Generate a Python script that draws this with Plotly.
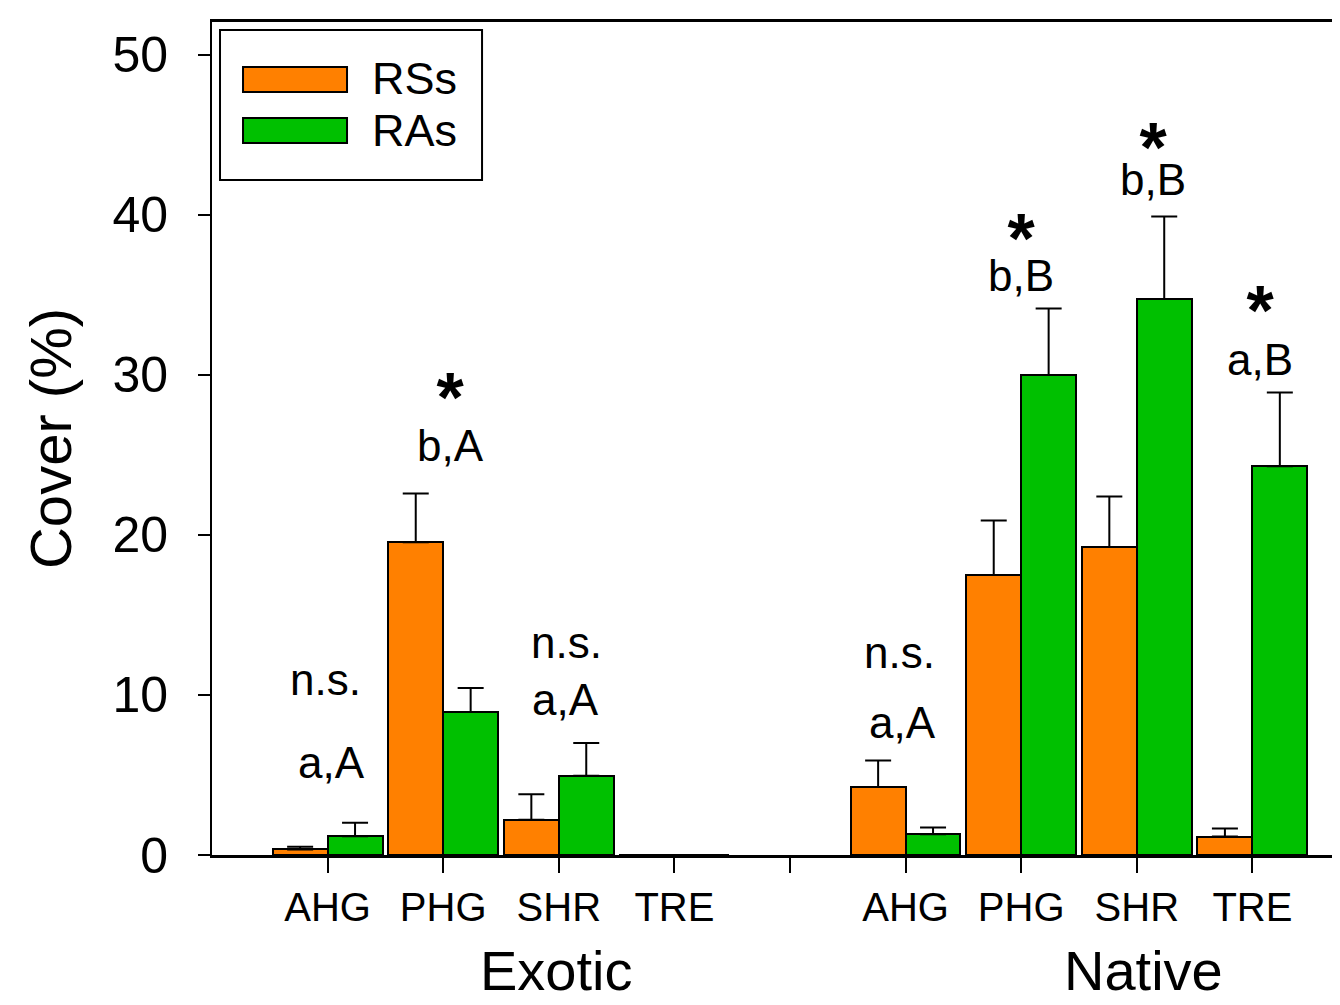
import plotly.graph_objects as go

# ---------------- data ----------------
categories = ["AHG", "PHG", "SHR", "TRE"]
groups = ["Exotic", "Native"]
slots_exotic = [0, 1, 2, 3]
slots_native = [5, 6, 7, 8]

rss_exotic = [0.35, 19.55, 2.2, 0.0]
rss_exotic_err = [0.17, 3.05, 1.6, 0.0]
ras_exotic = [1.17, 8.93, 4.95, 0.0]
ras_exotic_err = [0.85, 1.5, 2.05, 0.0]

rss_native = [4.25, 17.5, 19.25, 1.15]
rss_native_err = [1.65, 3.4, 3.15, 0.5]
ras_native = [1.3, 30.0, 34.75, 24.3]
ras_native_err = [0.42, 4.15, 5.15, 4.6]

# letter labels without asterisk: text, slot position, y value (label centre)
lab_text = ["n.s.", "a,A", "n.s.", "a,A", "n.s.", "a,A"]
lab_x = [-0.022, 0.035, 2.067, 2.059, 4.948, 4.974]
lab_y = [10.94, 5.81, 13.25, 9.69, 12.63, 8.31]

# significant pairs: asterisk above a letter label
sig_mark = ["*", "*", "*", "*"]
sig_text = ["b,A", "b,B", "b,B", "a,B"]
sig_x = [1.06, 6.0, 7.14, 8.07]
sig_y = [23.94, 34.56, 40.56, 29.31]       # bottom of the label block
sig_gap = [30, 21.5, 18, 30.8]             # line spacing of the block

tick_slots = [0, 1, 2, 3, 4, 5, 6, 7, 8]
tick_text = categories + [""] + categories
group_label_x = [1.98, 7.06]

ORANGE = "#FF8000"
GREEN = "#00C000"
BW = 0.475
FONT = "Arial, Liberation Sans, sans-serif"

slots = slots_exotic + slots_native
rss = rss_exotic + rss_native
rss_err = rss_exotic_err + rss_native_err
ras = ras_exotic + ras_native
ras_err = ras_exotic_err + ras_native_err

fig = go.Figure()
fig.add_trace(go.Bar(
    x=[s - BW / 2 for s in slots], y=rss, width=BW, name="RSs",
    marker=dict(color=ORANGE, line=dict(color="black", width=2)),
    error_y=dict(type="data", array=rss_err, arrayminus=[0] * len(rss),
                 symmetric=False, color="black", thickness=2, width=13),
))
fig.add_trace(go.Bar(
    x=[s + BW / 2 for s in slots], y=ras, width=BW, name="RAs",
    marker=dict(color=GREEN, line=dict(color="black", width=2)),
    error_y=dict(type="data", array=ras_err, arrayminus=[0] * len(ras),
                 symmetric=False, color="black", thickness=2, width=13),
))

annotations = []
for t, x, y in zip(lab_text, lab_x, lab_y):
    annotations.append(dict(
        x=x, y=y, xref="x", yref="y", text=t, showarrow=False,
        font=dict(family=FONT, size=44, color="black"), yanchor="middle",
    ))
for m, t, x, y, g in zip(sig_mark, sig_text, sig_x, sig_y, sig_gap):
    annotations.append(dict(
        x=x, y=y, xref="x", yref="y", showarrow=False, yanchor="bottom",
        text=("<span style='font-size:70px'><b>" + m + "</b></span><br>"
              "<span style='font-size:44px'>" + t + "</span>"),
        font=dict(family=FONT, size=g, color="black"), align="center",
    ))
for g, gx in zip(groups, group_label_x):
    annotations.append(dict(
        x=gx, y=-0.1789, xref="x", yref="paper", text=g, showarrow=False,
        font=dict(family=FONT, size=56, color="black"), yanchor="bottom",
    ))

# manual legend (wide swatches like the original)
shapes = [
    dict(type="rect", xref="paper", yref="paper", x0=0.0071, x1=0.2394, y0=0.8103, y1=0.9904,
         line=dict(color="black", width=2), fillcolor="white", layer="above"),
    dict(type="rect", xref="paper", yref="paper", x0=0.0275, x1=0.1197, y0=0.916, y1=0.946,
         line=dict(color="black", width=2), fillcolor=ORANGE, layer="above"),
    dict(type="rect", xref="paper", yref="paper", x0=0.0275, x1=0.1197, y0=0.8547, y1=0.8848,
         line=dict(color="black", width=2), fillcolor=GREEN, layer="above"),
]
for name, yy in zip(["RSs", "RAs"], [0.9316, 0.8703]):
    annotations.append(dict(
        x=0.1400, y=yy, xref="paper", yref="paper", text=name, showarrow=False,
        xanchor="left", yanchor="middle", font=dict(family=FONT, size=45, color="black"),
    ))

# the page body has an 8px margin, so the figure is 8px smaller to fit 1340x1005
fig.update_layout(
    width=1332, height=997,
    margin=dict(l=204, r=0, t=14, b=150),
    paper_bgcolor="white", plot_bgcolor="white",
    showlegend=False,
    bargap=0,
    annotations=annotations,
    shapes=shapes,
    font=dict(family=FONT, color="black"),
)
fig.update_xaxes(
    range=[-1, 8.758], tickmode="array", tickvals=tick_slots, ticktext=tick_text,
    ticks="outside", ticklen=15, tickwidth=2, tickcolor="black",
    showline=True, linewidth=2.5, linecolor="black", mirror=True,
    showgrid=False, zeroline=False, layer="above traces",
    tickfont=dict(family=FONT, size=40, color="black"), ticklabelstandoff=0,
)
fig.update_yaxes(
    range=[0, 52.06], tickmode="array", tickvals=[0, 10, 20, 30, 40, 50],
    ticks="outside", ticklen=12, tickwidth=2, tickcolor="black",
    showline=True, linewidth=2, linecolor="black",
    showgrid=False, zeroline=False,
    tickfont=dict(family=FONT, size=50, color="black"), ticklabelstandoff=20,
    title=dict(text="Cover (%)", font=dict(family=FONT, size=58, color="black"), standoff=22),
)

fig.write_html("out.html")
